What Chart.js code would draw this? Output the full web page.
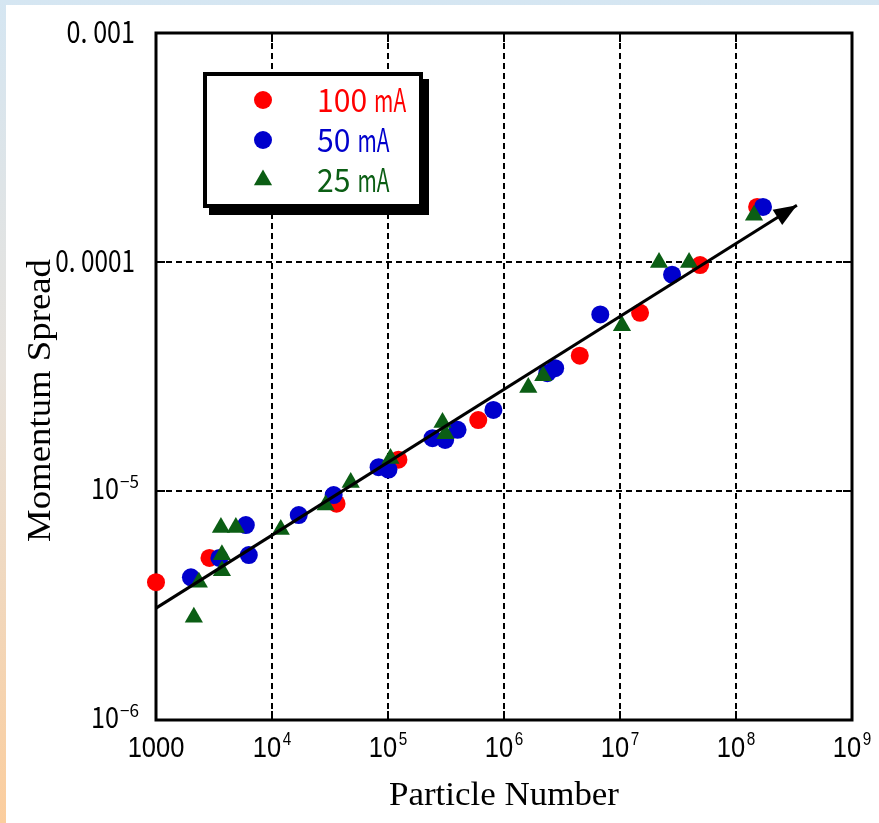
<!DOCTYPE html>
<html lang="en">
<head>
<meta charset="UTF-8">
<title>Momentum Spread vs Particle Number</title>
<script src="https://cdn.jsdelivr.net/npm/chart.js"></script>
<style>
  html, body { margin: 0; padding: 0; }
  body {
    width: 879px; height: 823px; overflow: hidden;
    background: linear-gradient(to bottom, #d5e6f2 0%, #e7e2dc 45%, #fbcd9d 100%);
  }
  .sheet { position: absolute; left: 6px; top: 5px; width: 873px; height: 818px; background: #fff; }
  canvas { display: block; }
</style>
</head>
<body>
<div class="sheet"><canvas id="chart" width="873" height="818"></canvas></div>
<script>
// axis ticks (log decades)
const xTicks = [1e3, 1e4, 1e5, 1e6, 1e7, 1e8, 1e9];
const xTickBase = ['1000', '10', '10', '10', '10', '10', '10'];
const xTickExp = ['', '4', '5', '6', '7', '8', '9'];
const yTicks = [1e-3, 1e-4, 1e-5, 1e-6];
const yTickBase = ['0. 001', '0. 0001', '10', '10'];
const yTickExp = ['', '', '\u22125', '\u22126'];

const seriesNames = ['100 mA', '50 mA', '25 mA'];

// 100 mA
const redX = [1000, 2890, 36000, 123000, 600000, 4.5e6, 1.49e7, 4.9e7, 1.52e8];
const redY = [4.0e-6, 5.1e-6, 8.8e-6, 1.37e-5, 2.04e-5, 3.9e-5, 6.0e-5, 9.7e-5, 1.74e-4];

// 50 mA
const blueX = [2000, 3520, 5950, 6310, 17000, 34000, 83000, 101000, 242000, 311000, 398000, 810000,
               2.36e6, 2.76e6, 6.76e6, 2.81e7, 1.71e8];
const blueY = [4.2e-6, 5.1e-6, 7.1e-6, 5.25e-6, 7.85e-6, 9.6e-6, 1.27e-5, 1.24e-5, 1.70e-5, 1.67e-5, 1.85e-5, 2.26e-5,
               3.27e-5, 3.44e-5, 5.9e-5, 8.8e-5, 1.74e-4];

// 25 mA
const greenX = [2120, 2340, 3630, 4880, 3700, 3700, 11900, 29000, 47700, 105000, 295000, 313000,
                1.62e6, 2.18e6, 1.04e7, 2.17e7, 3.94e7, 1.43e8];
const greenY = [2.81e-6, 4.0e-6, 6.92e-6, 6.92e-6, 5.27e-6, 4.49e-6, 6.79e-6, 8.68e-6, 1.09e-5, 1.385e-5, 1.99e-5, 1.78e-5,
                2.83e-5, 3.19e-5, 5.27e-5, 9.95e-5, 9.95e-5, 1.6e-4];

// trend arrow (start, tip)
const arrowX = [1000, 3.35e8];
const arrowY = [3.08e-6, 1.77e-4];

const RED = '#ff0000', BLUE = '#0000cc', GREEN = '#0b5e14';
const seriesColors = [RED, BLUE, GREEN];
const seriesShapes = ['circle', 'circle', 'triangle'];
const GOTHIC = '"Noto Sans CJK JP", "DejaVu Sans", sans-serif';

const pts = (xs, ys) => xs.map((x, i) => ({ x: x, y: ys[i] }));

// text squeezed horizontally to a given width (the original uses a narrow gothic face)
function squeezed(ctx, text, x, y, font, width, align) {
    ctx.font = font;
    ctx.textAlign = align;
    ctx.textBaseline = 'alphabetic';
    const w = ctx.measureText(text).width;
    ctx.save();
    ctx.translate(x, y);
    ctx.scale(width / w, 1);
    ctx.fillText(text, 0, 0);
    ctx.restore();
}

function marker(ctx, shape, x, y) {
    ctx.beginPath();
    if (shape === 'triangle') {
        const r = 10.5;
        ctx.moveTo(x, y - r);
        ctx.lineTo(x + r * Math.sin(2 * Math.PI / 3), y + r / 2);
        ctx.lineTo(x - r * Math.sin(2 * Math.PI / 3), y + r / 2);
        ctx.closePath();
    } else {
        ctx.arc(x, y, 9, 0, Math.PI * 2);
    }
    ctx.fill();
}

const decor = {
    id: 'decor',
    beforeDatasetsDraw(chart) {
        const ctx = chart.ctx, a = chart.chartArea;
        const xs = chart.scales.x, ys = chart.scales.y;
        ctx.save();
        ctx.strokeStyle = '#000';
        ctx.lineWidth = 2;
        ctx.beginPath();
        xTicks.slice(1, -1).forEach(v => {
            const px = xs.getPixelForValue(v);
            ctx.moveTo(px, a.bottom); ctx.lineTo(px, a.bottom - 9);
            ctx.moveTo(px, a.top); ctx.lineTo(px, a.top + 9);
        });
        yTicks.slice(1, -1).forEach(v => {
            const py = ys.getPixelForValue(v);
            ctx.moveTo(a.left, py); ctx.lineTo(a.left + 9, py);
            ctx.moveTo(a.right, py); ctx.lineTo(a.right - 9, py);
        });
        ctx.stroke();
        ctx.lineWidth = 3;
        ctx.strokeRect(a.left, a.top, a.right - a.left, a.bottom - a.top);
        ctx.restore();
    },
    afterDatasetsDraw(chart) {
        // arrow head at the end of the trend line
        const ctx = chart.ctx;
        const p = chart.getDatasetMeta(0).data;
        const x0 = p[0].x, y0 = p[0].y, x1 = p[1].x, y1 = p[1].y;
        const ang = Math.atan2(y1 - y0, x1 - x0);
        const len = 23, half = 9;
        ctx.save();
        ctx.fillStyle = '#000';
        ctx.translate(x1, y1);
        ctx.rotate(ang);
        ctx.beginPath();
        ctx.moveTo(0, 0);
        ctx.lineTo(-len, -half);
        ctx.lineTo(-len, half);
        ctx.closePath();
        ctx.fill();
        ctx.restore();
    },
    afterDraw(chart) {
        const ctx = chart.ctx, a = chart.chartArea;
        const xs = chart.scales.x, ys = chart.scales.y;
        ctx.save();
        ctx.fillStyle = '#000';

        // x tick labels
        xTicks.forEach((v, i) => {
            const px = xs.getPixelForValue(v);
            ctx.save();
            ctx.translate(px, a.bottom + 37);
            ctx.scale(0.85, 1);
            ctx.textAlign = 'left';
            ctx.textBaseline = 'alphabetic';
            ctx.font = '30px "Liberation Sans", Arial, sans-serif';
            const wb = ctx.measureText(xTickBase[i]).width;
            ctx.font = '18px "Liberation Sans", Arial, sans-serif';
            const we = xTickExp[i] ? ctx.measureText(xTickExp[i]).width + 2 : 0;
            const start = -(wb + we) / 2;
            ctx.font = '30px "Liberation Sans", Arial, sans-serif';
            ctx.fillText(xTickBase[i], start, 0);
            if (xTickExp[i]) {
                ctx.font = '18px "Liberation Sans", Arial, sans-serif';
                ctx.fillText(xTickExp[i], start + wb + 2, -12);
            }
            ctx.restore();
        });

        // y tick labels
        yTicks.forEach((v, i) => {
            const py = ys.getPixelForValue(v);
            if (!yTickExp[i]) {
                squeezed(ctx, yTickBase[i], a.left - 21, py + 10, '30px ' + GOTHIC, yTickBase[i].length * 11.4, 'right');
            } else {
                const right = a.left - 17;
                squeezed(ctx, yTickExp[i], right, py - 3, '17px ' + GOTHIC, 19, 'right');
                squeezed(ctx, yTickBase[i], right - 20, py + 8, '29px ' + GOTHIC, 28, 'right');
            }
        });

        // axis titles
        ctx.textAlign = 'center';
        ctx.textBaseline = 'alphabetic';
        ctx.font = '33px "Liberation Serif", "Times New Roman", serif';
        let t = 'Particle Number';
        let w = ctx.measureText(t).width;
        ctx.save();
        ctx.translate((a.left + a.right) / 2, a.bottom + 85);
        ctx.scale(230 / w, 1);
        ctx.fillText(t, 0, 0);
        ctx.restore();

        t = 'Momentum Spread';
        w = ctx.measureText(t).width;
        ctx.save();
        ctx.translate(44, (a.top + a.bottom) / 2 + 24);
        ctx.rotate(-Math.PI / 2);
        ctx.scale(283 / w, 1);
        ctx.fillText(t, 0, 0);
        ctx.restore();

        // legend box with drop shadow
        const bx = a.left + 47, by = a.top + 39, bw = 220, bh = 136;
        ctx.fillStyle = '#000';
        ctx.fillRect(bx + 6, by + 7, bw, bh);
        ctx.fillStyle = '#fff';
        ctx.fillRect(bx, by, bw, bh);
        ctx.strokeStyle = '#000';
        ctx.lineWidth = 4;
        ctx.strokeRect(bx + 2, by + 2, bw - 4, bh - 4);
        seriesNames.forEach((name, i) => {
            const ry = by + 28 + i * 40;
            ctx.fillStyle = seriesColors[i];
            marker(ctx, seriesShapes[i], bx + 60, ry);
            const parts = name.split(' ');
            const nw = parts[0].length * 16.7;
            squeezed(ctx, parts[0], bx + 114, ry + 12, '32px ' + GOTHIC, nw, 'left');
            squeezed(ctx, parts[1], bx + 114 + nw + 7, ry + 12, '32px ' + GOTHIC, 32, 'left');
        });
        ctx.restore();
    }
};

new Chart(document.getElementById('chart'), {
    type: 'scatter',
    data: {
        datasets: [
            { label: 'trend', data: pts(arrowX, arrowY), showLine: true, borderColor: '#000', borderWidth: 3,
              pointRadius: 0, order: 0, clip: false },
            { label: seriesNames[2], data: pts(greenX, greenY), pointStyle: 'triangle', pointRadius: 10.5,
              backgroundColor: GREEN, borderColor: GREEN, borderWidth: 0, order: 1, clip: false },
            { label: seriesNames[1], data: pts(blueX, blueY), pointStyle: 'circle', pointRadius: 9,
              backgroundColor: BLUE, borderColor: BLUE, borderWidth: 0, order: 2, clip: false },
            { label: seriesNames[0], data: pts(redX, redY), pointStyle: 'circle', pointRadius: 9,
              backgroundColor: RED, borderColor: RED, borderWidth: 0, order: 3, clip: false }
        ]
    },
    options: {
        responsive: false,
        devicePixelRatio: 1,
        animation: false,
        layout: { padding: { left: 150, right: 27, top: 28, bottom: 103 } },
        plugins: { legend: { display: false }, tooltip: { enabled: false } },
        scales: {
            x: {
                type: 'logarithmic', min: 1e3, max: 1e9,
                afterBuildTicks: s => { s.ticks = xTicks.map(v => ({ value: v })); },
                ticks: { display: false },
                grid: { color: '#000', lineWidth: 2, drawTicks: false, borderDash: [6, 4] },
                border: { display: false, dash: [6, 4] }
            },
            y: {
                type: 'logarithmic', min: 1e-6, max: 1e-3,
                afterBuildTicks: s => { s.ticks = yTicks.map(v => ({ value: v })); },
                ticks: { display: false },
                grid: { color: '#000', lineWidth: 2, drawTicks: false, borderDash: [6, 4] },
                border: { display: false, dash: [6, 4] }
            }
        }
    },
    plugins: [decor]
});
</script>
</body>
</html>
